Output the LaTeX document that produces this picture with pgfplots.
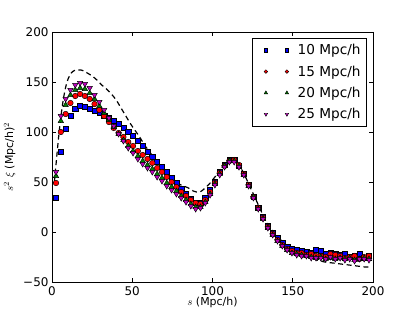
\documentclass[border=0pt]{standalone}
\usepackage{fontspec}
\setmainfont{DejaVu Sans}
\usepackage{pgfplots}
\pgfplotsset{compat=1.18}
\usepackage{pgfplotstable}

\pgfplotstableread{
s b r g p
2.5 34 49 56 60
5.5 80 100 111 116
8.5 103 118 127 133
11.5 116 129 137 142
14.5 123 136 142 147
17.5 126 138 144 149
20.5 125 136 143 148
23.5 123 133 139 144
26.5 121 128 133 137
29.5 119 122 126 130
32.5 116 116 119 122
35.5 114 110 112 114
38.5 111 104 105 106
41.5 108 99 98 98
44.5 104 95 92 91
47.5 100 90 86 84
50.5 96 86 81 79
53.5 91 81 76 73
56.5 86 77 71 68
59.5 80 73 67 64
62.5 75 69 63 60
65.5 70 64 58 55
68.5 65 60 54 51
71.5 60 55 49 46
74.5 54 50 45 42
77.5 49 45 41 38
80.5 43 40 36 34
83.5 38 36 32 30
86.5 33 32 28 26
89.5 29 29 25 23
92.5 29 28 25 24
95.5 34 32 30 29
98.5 42 40 38 37
101.5 50 49 48 47
104.5 60 59 58 57
107.5 67 66 66 65
110.5 72 71 71 70
113.5 72 72 71 70
116.5 66 67 66 65
119.5 58 58 57 57
122.5 47 47 46 46
125.5 35 35 35 34
128.5 24 24 23 23
131.5 15 14 13 13
134.5 6 5 4 4
137.5 -1 -2 -3 -3
140.5 -6 -8 -9 -9
143.5 -11 -13 -14 -14
146.5 -15 -17 -18 -18
149.5 -17 -19 -21 -21
152.5 -18 -21 -22 -23
155.5 -19 -21 -23 -24
158.5 -20 -23 -24 -24
161.5 -21 -22 -25 -26
164.5 -18 -24 -26 -26
167.5 -19 -24 -25 -26
170.5 -22 -25 -27 -27
173.5 -21 -22 -26 -25
176.5 -22 -23 -27 -27
179.5 -23 -24 -26 -26
182.5 -22 -26 -27 -28
185.5 -25 -25 -26 -27
188.5 -24 -24 -28 -29
191.5 -22 -27 -27 -27
194.5 -26 -25 -26 -27
197.5 -24 -24 -27 -28
}\datatab

\pgfplotstableread{
s v
1.5 50
2 59
3 76
4 93
5 108
6 121
7 132
8 141
9 148
10 153
12 159
14 161.5
16 162
18 162
20 161
22 159
25 156
28 152
31 147
34 143
37 138
40 132
43 124
46 116
49 108
52 101
55 94
58 86
61 80
64 72
67 66
70 60
73 55
76 51
79 48
82 46
85 44
88 41
90 40
92 40
94 42
96 45
98 48
100 52
102 56
104 60
106 65
108 69
110 71
112 72
114 71
116 68
118 63
120 57
122 50
124 43
126 36
128 29
130 22
132 15
134 9
136 4
138 0
140 -4
142 -7
144 -10
146 -13
148 -15
150 -17
155 -21
160 -25
165 -28
170 -30
175 -31
180 -32
185 -33
190 -34
195 -35
198 -35
}\lintab

\begin{document}
\begin{tikzpicture}
\useasboundingbox (-52bp,-31bp) rectangle (363bp,282bp);
\begin{axis}[
  at={(0,0)}, anchor=south west,
  scale only axis, width=321bp, height=250bp,
  xmin=0, xmax=200, ymin=-50, ymax=200,
  xtick={0,50,100,150,200},
  ytick={-50,0,50,100,150,200},
  yticklabels={−50,0,50,100,150,200},
  tick align=inside,
  major tick length=4bp,
  tick style={black, line width=0.6pt},
  axis line style={line width=0.8pt},
  /pgf/number format/assume math mode=true,
  ticklabel style={font=\fontsize{12}{14}\selectfont},
  xticklabel style={yshift=-1bp},
  xlabel={$s$ (Mpc/h)},
  ylabel={$s^2\ \xi$ (Mpc/h)$^2$},
  label style={font=\fontsize{11}{13}\selectfont},
  xlabel style={yshift=5bp},
  ylabel style={yshift=1bp},
  legend style={at={(0.981,0.976)}, anchor=north east, draw=black, line width=0.6pt,
    font=\fontsize{13.7}{15}\selectfont, row sep=5.5bp, column sep=7bp, inner xsep=4bp, inner ysep=4bp},
  legend cell align=left,
  legend image code/.code={\path (-9bp,0bp); \draw[every mark/.append style={draw=none,scale=0.65}] plot coordinates {(0bp,0bp) (21bp,0bp)};},
]
\addplot[only marks, mark=square*, mark size=2.6pt, mark options={fill=blue, draw=black, line width=0.45pt}] table[x=s,y=b] {\datatab};
\addlegendentry{10 Mpc/h}
\addplot[only marks, mark=*, mark size=2.8pt, mark options={fill=red, draw=black, line width=0.45pt}] table[x=s,y=r] {\datatab};
\addlegendentry{15 Mpc/h}
\addplot[only marks, mark=triangle*, mark size=3.1pt, mark options={fill=green!50!black, draw=black, line width=0.45pt}] table[x=s,y=g] {\datatab};
\addlegendentry{20 Mpc/h}
\addplot[only marks, mark=triangle*, mark size=3.1pt, mark options={rotate=180, fill={rgb,1:red,0.75;green,0;blue,0.75}, draw=black, line width=0.45pt}] table[x=s,y=p] {\datatab};
\addlegendentry{25 Mpc/h}
\addplot[black, line width=1.2pt, dash pattern=on 5bp off 3.5bp, forget plot, smooth] table[x=s,y=v] {\lintab};
\end{axis}
\end{tikzpicture}
\end{document}
